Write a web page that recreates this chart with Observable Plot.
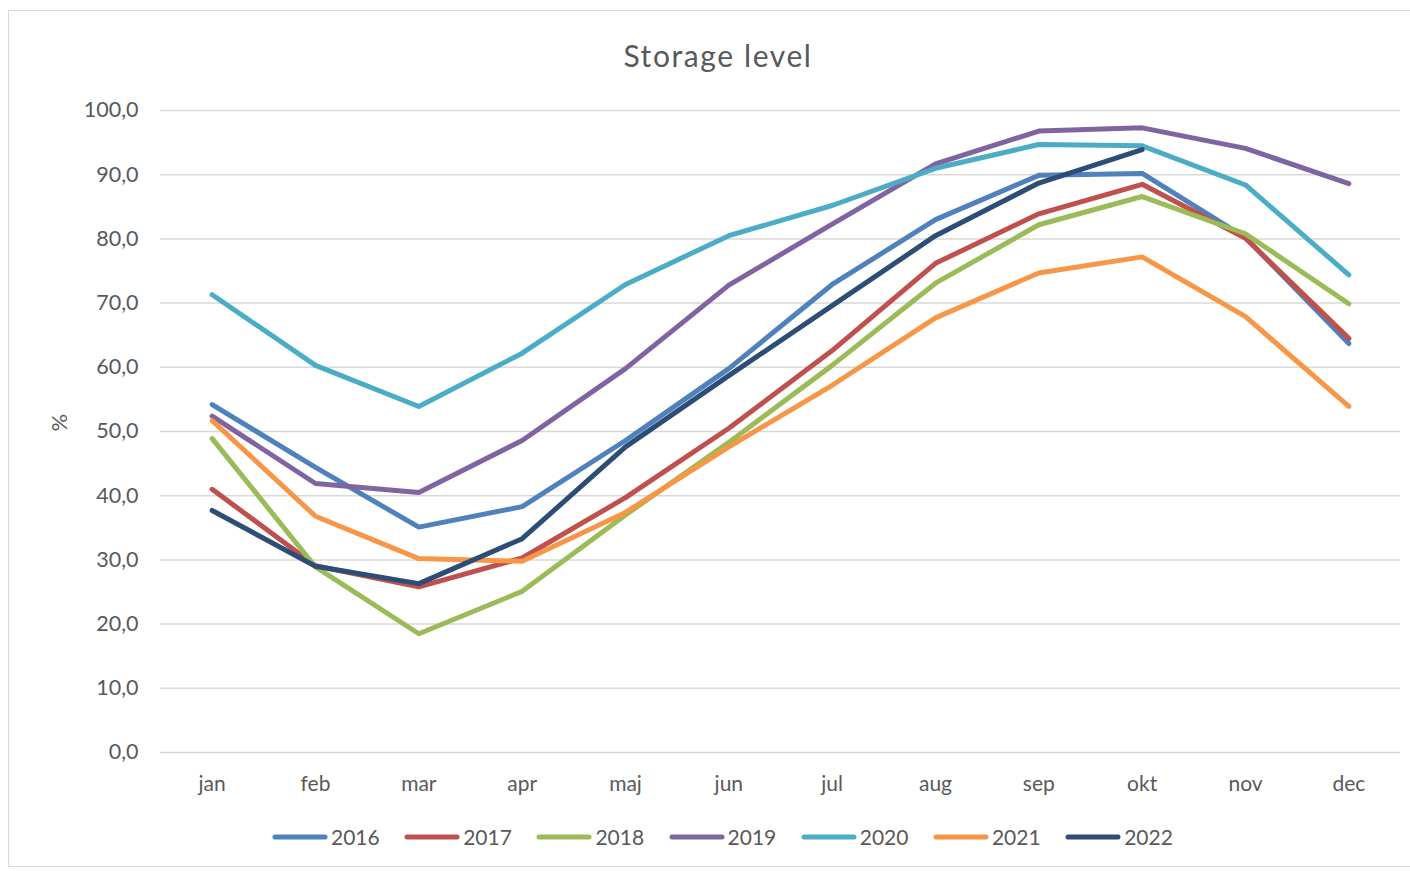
<!DOCTYPE html>
<html>
<head>
<meta charset="utf-8">
<script src="https://cdn.jsdelivr.net/npm/d3@7"></script>
<script src="https://cdn.jsdelivr.net/npm/@observablehq/plot@0.6"></script>
<style>
  html, body { margin: 0; padding: 0; background: #fff; }
  #wrap { position: relative; width: 1410px; height: 871px; font-family: Lato, "Open Sans", sans-serif; color: #595959; overflow: hidden; }
  #frame { position: absolute; left: 8px; top: 10px; width: 1410px; height: 857px; border: 1.5px solid #d9d9d9; box-sizing: border-box; }
  #title { position: absolute; left: 0; width: 1436px; top: 35px; text-align: center; font-size: 30px; letter-spacing: 1.6px; line-height: 40px; }
  #chart { position: absolute; left: 0; top: 0; }
  #legend { position: absolute; left: 272px; top: 824px; display: flex; font-size: 21px; line-height: 26px; }
  .item { display: flex; align-items: center; width: 132.2px; flex: none; }
  .item svg { margin-right: 3px; }
</style>
</head>
<body>
<div id="wrap">
  <div id="frame"></div>
  <div id="chart"></div>
  <div id="title">Storage level</div>
  <div id="legend"></div>
</div>
<script>
const months = ["jan","feb","mar","apr","maj","jun","jul","aug","sep","okt","nov","dec"];
const years = ["2016","2017","2018","2019","2020","2021","2022"];
const colors = ["#4F81BD","#C0504D","#9BBB59","#8064A2","#4BACC6","#F79646","#2C4D75"];
const yTicks = [0,10,20,30,40,50,60,70,80,90,100];

const s2016 = [54.2, 44.4, 35.1, 38.3, 48.6, 59.8, 72.9, 83.0, 89.9, 90.2, 80.2, 63.7];
const s2017 = [41.0, 29.1, 25.8, 30.3, 39.7, 50.5, 62.6, 76.2, 83.9, 88.5, 80.1, 64.5];
const s2018 = [48.9, 28.9, 18.5, 25.1, 37.0, 48.3, 60.3, 73.1, 82.2, 86.6, 80.8, 69.9];
const s2019 = [52.4, 41.9, 40.5, 48.6, 59.8, 72.8, 82.3, 91.7, 96.8, 97.3, 94.1, 88.6];
const s2020 = [71.3, 60.3, 53.9, 62.2, 72.9, 80.5, 85.2, 91.0, 94.7, 94.5, 88.4, 74.4];
const s2021 = [51.7, 36.8, 30.2, 29.8, 37.4, 47.6, 57.2, 67.7, 74.7, 77.2, 67.9, 53.9];
const s2022 = [37.7, 29.0, 26.3, 33.3, 47.6, 58.7, 69.6, 80.5, 88.7, 93.9, null, null];

const seriesList = [s2016, s2017, s2018, s2019, s2020, s2021, s2022];
const data = [];
seriesList.forEach((s, i) => s.forEach((v, j) => { if (v != null) data.push({year: years[i], month: months[j], value: v}); }));

const locale = d3.formatLocale({decimal: ",", thousands: ".", grouping: [3], currency: ["", "€"]});
const fmt = locale.format(".1f");

const chart = Plot.plot({
  width: 1410,
  height: 871,
  marginLeft: 160,
  marginRight: 10,
  marginTop: 110,
  marginBottom: 119,
  style: {fontFamily: "Lato, 'Open Sans', sans-serif", fontSize: "21px", color: "#595959", background: "transparent"},
  x: {type: "point", domain: months, padding: 0.5, round: false},
  y: {domain: [0, 100]},
  color: {domain: years, range: colors},
  marks: [
    Plot.gridY(yTicks, {stroke: "#d9d9d9", strokeOpacity: 1, strokeWidth: 1.5}),
    Plot.axisY(yTicks, {tickSize: 0, tickPadding: 22, tickFormat: fmt, label: null, fontSize: 21.5}),
    Plot.axisX({tickSize: 0, tickPadding: 24, label: null, fontSize: 21}),
    Plot.line(data, {x: "month", y: "value", z: "year", stroke: "year", strokeWidth: 5, strokeLinecap: "round", strokeLinejoin: "round"}),
    Plot.text(["%"], {frameAnchor: "left", dx: -101, rotate: -90, fontSize: 22, fill: "#595959"})
  ]
});
document.getElementById("chart").appendChild(chart);

const legend = document.getElementById("legend");
years.forEach((y, i) => {
  const item = document.createElement("div");
  item.className = "item";
  item.innerHTML = `<svg width="56" height="10"><line x1="3" y1="5" x2="53" y2="5" stroke="${colors[i]}" stroke-width="5" stroke-linecap="round"/></svg><span>${y}</span>`;
  legend.appendChild(item);
});
</script>
</body>
</html>
